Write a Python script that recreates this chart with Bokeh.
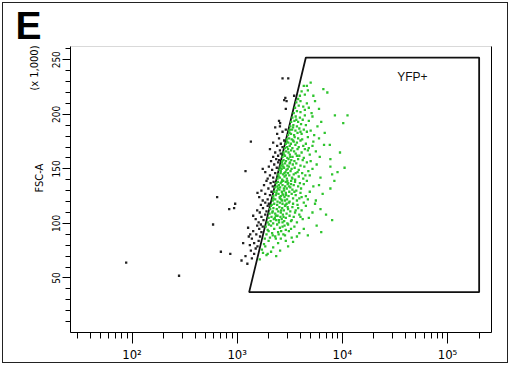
import math
from bokeh.plotting import figure
from bokeh.models import Range1d, FixedTicker, LinearAxis, Label, Title
from bokeh.embed import file_html
from bokeh.resources import INLINE

# ---------------- data ----------------
x_major = [100, 1000, 10000, 100000]
x_major_labels = ["10\u00b2", "10\u00b3", "10\u2074", "10\u2075"]
y_major = [50, 100, 150, 200, 250]
y_major_labels = ["50", "100", "150", "200", "250"]
x_limits = (26, 262143)
y_limits = (0, 262.143)

panel_letter = "E"
y_title = "FSC-A"
y_scale_note = "(x 1,000)"
gate_name = "YFP+"
gate_yfp = [1300, 4500, 200000, 200000]
gate_fsc = [37, 252, 252, 37]

# events inside the YFP+ gate (YFP-A, FSC-A x1000)
events_in_gate = [
    (1640,67),(1900,71),(1950,72),(2560,75),(3050,79),(1720,76),(2200,78),(1800,81),(2450,82),(1990,84),
    (2900,84),(1760,73),(3400,83),(2100,74),(1850,79),(2350,70),
    (1830,86),(2050,87),(2300,88),(2600,86),(2850,89),(3300,87),(1900,90),(2150,91),(2450,92),(2750,90),
    (3100,93),(3900,91),(6300,92),(1950,94),(2250,95),(2550,96),(2900,94),(3500,97),(4300,95),(1870,97),
    (2100,98),(2400,99),(2700,97),(3050,99),(5700,98),(1990,93),(2180,89),(2620,93),(3250,95),(4700,89),
    (2000,99),(2330,86),(2820,98),(3700,88),(2480,90),
    (1950,101),(2080,102),(2200,100),(2350,103),(2500,101),(2650,104),(2800,102),(3000,100),(3300,103),(3700,101),
    (4200,104),(8000,103),(1990,105),(2120,106),(2280,105),(2420,107),(2580,106),(2720,108),(2900,105),(3150,107),
    (3450,106),(3900,108),(4800,105),(2030,109),(2160,110),(2300,109),(2460,111),(2600,110),(2780,112),(2950,109),
    (3200,111),(3550,110),(4100,112),(5200,110),(2060,113),(2210,114),(2380,113),(2520,115),(2680,114),(2850,116),
    (3050,113),(3350,115),(3800,114),(4500,116),(6200,113),(2130,117),(2250,118),(2400,117),(2550,119),(2700,118),
    (2880,117),(3100,119),(3400,118),(3750,117),(4300,119),(5500,118),(2180,111),(2330,107),(2700,101),(3600,112),
    (2090,116),(2490,103),(2950,118),(3250,102),(4000,106),(7000,108),(2620,112),(2230,104),(2760,106),(3020,115),
    (2180,121),(2300,122),(2420,120),(2550,123),(2680,121),(2820,124),(2980,122),(3150,120),(3400,123),(3700,121),
    (4100,124),(4700,122),(5600,121),(2200,125),(2330,126),(2470,127),(2600,125),(2750,126),(2900,128),(3080,125),
    (3300,127),(3600,126),(4000,128),(4500,125),(6500,127),(2250,129),(2380,130),(2520,131),(2660,129),(2800,130),
    (2960,132),(3130,129),(3350,131),(3650,130),(4050,132),(4900,129),(7700,132),(2300,133),(2410,134),(2560,133),
    (2700,135),(2860,134),(3020,136),(3200,133),(3450,135),(3800,134),(4300,136),(5300,134),(2360,137),(2440,138),
    (2590,137),(2740,139),(2900,138),(3060,137),(3260,139),(3550,138),(3950,137),(4600,139),(8400,139),(2210,123),
    (2360,128),(2490,135),(2620,122),(2780,132),(2920,126),(3110,134),(3500,129),(3000,139),(2540,124),(2850,121),
    (3250,136),(2700,127),(2450,132),(3900,123),(6000,135),(2640,138),
    (2420,141),(2550,142),(2680,140),(2820,143),(2970,141),(3130,144),(3320,142),(3560,140),(3850,143),(4250,141),
    (4900,144),(6200,142),(2460,145),(2590,146),(2730,145),(2880,147),(3040,146),(3220,148),(3450,145),(3750,147),
    (4150,146),(4750,148),(8000,145),(2520,149),(2650,150),(2790,151),(2940,149),(3100,152),(3290,150),(3520,151),
    (3850,149),(4350,152),(5200,150),(7700,152),(2600,153),(2700,154),(2850,155),(3000,153),(3180,156),(3380,154),
    (3650,155),(4000,153),(4600,156),(5700,154),(10500,151),(2680,157),(2760,158),(2910,157),(3080,159),(3270,158),
    (3500,157),(3800,159),(4200,158),(5000,157),(7700,159),(2480,143),(2600,148),(2740,152),(2900,144),(3150,155),
    (3600,146),(2660,156),(3350,141),(2810,146),(4450,144),(3020,150),(2580,151),(9000,147),
    (2700,161),(2850,162),(3000,160),(3170,163),(3360,161),(3600,164),(3900,162),(4300,160),(4900,163),(6100,161),
    (2760,165),(2920,166),(3080,165),(3260,167),(3480,166),(3750,168),(4100,165),(4700,167),(5600,166),(9500,165),
    (2840,169),(2990,170),(3160,171),(3350,169),(3580,172),(3850,170),(4250,171),(4800,169),(6700,172),(2900,173),
    (3060,174),(3240,173),(3450,175),(3700,174),(4000,176),(4500,173),(5300,175),(7600,172),(2960,177),(3120,178),
    (3300,177),(3520,179),(3800,178),(4150,177),(4700,179),(6000,178),(2780,163),(3050,168),(3400,176),(2980,175),
    (3700,162),(4400,168),(3200,161),(5200,171),
    (3050,181),(3250,182),(3480,181),(3750,183),(4100,182),(4600,184),(5400,181),(6800,183),(3120,185),(3330,186),
    (3580,185),(3900,187),(4300,186),(5000,185),(10200,192),(3200,189),(3420,190),(3700,189),(4050,191),(4500,190),
    (5800,189),(3260,193),(3500,194),(3800,193),(4200,195),(4800,194),(6300,193),(3350,197),(3600,198),(3950,197),
    (4400,199),(5200,198),(8500,199),(11200,199),(3150,183),(3400,188),(3650,195),(3180,186),(4000,184),
    (3450,201),(3700,203),(4000,202),(4400,204),(5100,201),(3550,206),(3850,208),(4250,207),(4800,206),(6000,205),
    (3650,211),(4000,212),(4600,210),(5500,212),(3800,214),
    (3950,217),(4400,218),(5300,217),(4100,221),(4700,222),(7200,220),(4300,226),(4600,226),(6600,223),(5000,229),
]

# events outside the gate
events_outside = [
    (88,64),(280,52),(700,74),(860,72),(590,99),(645,124),(840,113),(935,114),(957,118),(1140,82),
    (1320,80),(1270,96),(1330,90),(1200,148),(1350,175),(2700,233),(3060,233),(2800,213),(2870,215),(2900,205),
    (2500,194),(2560,192),(3480,217),(2950,212),
    (1250,63),(1380,68),(1450,72),(1200,70),(1500,77),(1350,75),(1560,79),(1100,66),
    (1450,82),(1600,84),(1380,86),(1650,88),(1520,90),(1700,92),(1420,93),(1620,95),(1750,97),(1550,98),
    (1290,88),(1680,99),
    (1600,101),(1780,103),(1500,104),(1700,106),(1850,108),(1640,110),(1900,111),(1550,112),(1760,114),(1950,116),
    (1680,117),(1850,119),(1420,107),(2000,118),
    (1750,121),(1950,122),(1620,124),(2050,126),(1850,127),(2120,129),(1700,130),(1980,132),(2180,134),(1800,135),
    (2080,137),(1900,139),(2220,138),(1560,128),
    (1950,141),(2200,142),(2050,144),(2300,146),(1850,147),(2150,149),(2380,151),(2000,152),(2250,154),(2450,156),
    (2100,157),(2350,159),(1750,150),(2500,158),
    (2200,161),(2450,162),(2600,164),(2300,165),(2550,167),(2050,168),(2700,170),(2400,171),(2600,173),(2200,174),
    (2800,176),(2500,178),
    (2400,182),(2700,184),(2900,186),(2550,189),(2300,188),
]

GREEN = "#2ec42e"
DARK = "#222222"
NARROW = "Liberation Sans Narrow, DejaVu Sans Condensed, Liberation Sans"
SANS = "Liberation Sans, Arial, sans-serif"

# ---------------- figure ----------------
p = figure(width=510, height=365, x_axis_type="log",
           x_range=Range1d(*x_limits), y_range=Range1d(*y_limits),
           output_backend="svg", toolbar_location=None,
           min_border_left=70, min_border_right=19, min_border_top=46, min_border_bottom=33,
           styles={"background-color": "white",
                   "box-shadow": "inset 0 0 0 2px white, inset 0 0 0 3px #222222"})
p.xgrid.visible = False
p.ygrid.visible = False
p.outline_line_color = "#d9d9d9"
p.background_fill_color = "white"
p.border_fill_color = None

x_minor = [m * 10 ** k for k in range(1, 6) for m in range(2, 10)
           if x_limits[0] <= m * 10 ** k <= x_limits[1]]
y_minor = [v for v in range(10, 261, 10) if v not in y_major]

xa = p.xaxis[0]
xa.ticker = FixedTicker(ticks=x_major, minor_ticks=x_minor)
xa.major_label_overrides = dict(zip(x_major, x_major_labels))
xa.major_tick_in = 0
xa.major_tick_out = 11
xa.minor_tick_in = 0
xa.minor_tick_out = 6
xa.axis_line_color = "black"
xa.major_tick_line_color = "black"
xa.minor_tick_line_color = "black"
xa.major_label_text_font = NARROW
xa.major_label_text_font_size = "13px"
xa.major_label_text_color = "black"
xa.major_label_standoff = 3

ya = p.yaxis[0]
ya.ticker = FixedTicker(ticks=y_major, minor_ticks=y_minor)
ya.major_label_overrides = dict(zip(y_major, y_major_labels))
ya.major_tick_in = 0
ya.major_tick_out = 8
ya.minor_tick_in = 0
ya.minor_tick_out = 5
ya.axis_line_color = "black"
ya.major_tick_line_color = "black"
ya.minor_tick_line_color = "black"
ya.major_label_orientation = "vertical"
ya.major_label_text_font = NARROW
ya.major_label_text_font_size = "10px"
ya.major_label_text_color = "black"
ya.major_label_standoff = 2

ra = LinearAxis(ticker=FixedTicker(ticks=[]), major_label_text_font_size="0px",
                major_tick_out=0, major_tick_in=0, minor_tick_out=0, minor_tick_in=0,
                axis_line_color="black")
p.add_layout(ra, "right")

# panel letter as the plot title
p.title.text = panel_letter
p.title.align = "left"
p.title.offset = -55
p.title.vertical_align = "bottom"
p.title.standoff = -1
p.title.text_font = SANS
p.title.text_font_style = "bold"
p.title.text_font_size = "39px"
p.title.text_color = "black"

# left-side titles
p.add_layout(Title(text=y_title, align="left", offset=140, standoff=4, vertical_align="top",
                   text_font=NARROW, text_font_size="11px", text_font_style="normal",
                   text_color="black"), "left")
p.add_layout(Title(text=y_scale_note, align="right", offset=-1, standoff=-20, vertical_align="bottom",
                   text_font=NARROW, text_font_size="11px", text_font_style="normal",
                   text_color="black"), "left")

# gate
p.patch(gate_yfp, gate_fsc, fill_color=None, line_color="#111111", line_width=1.8)

# events
ox = [e[0] for e in events_outside]
oy = [e[1] for e in events_outside]
gx = [e[0] for e in events_in_gate]
gy = [e[1] for e in events_in_gate]
p.scatter(ox, oy, marker="square", size=2.3, fill_color=DARK, line_color=None)
p.scatter(gx, gy, marker="square", size=2.3, fill_color=GREEN, line_color=None)

p.add_layout(Label(x=46400, y=234, text=gate_name, text_font=SANS, text_font_size="12px",
                   text_align="center", text_baseline="middle", text_color="#111111"))

open("out.html", "w").write(file_html(p, INLINE))
